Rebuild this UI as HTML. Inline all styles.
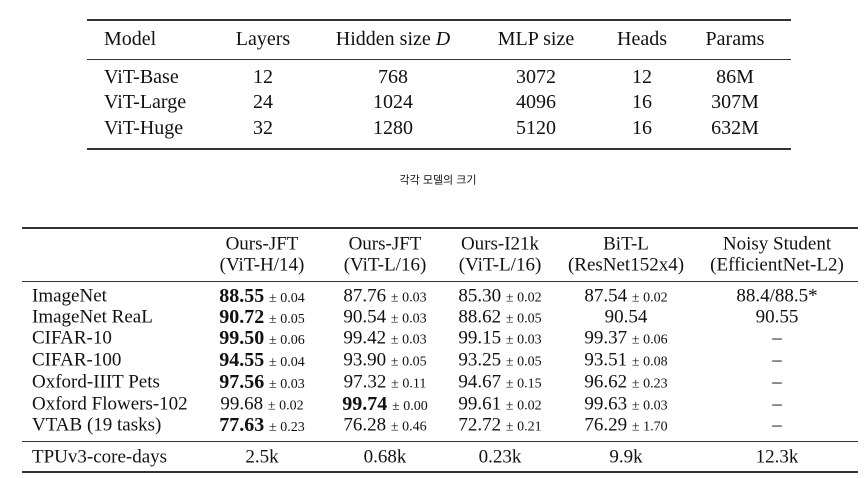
<!DOCTYPE html>
<html><head><meta charset="utf-8">
<style>
body{margin:0;width:865px;height:478px;background:#fff;position:relative;overflow:hidden;font-family:"Liberation Serif",serif;color:#111}
.t{position:absolute;white-space:nowrap;transform:translate(-50%,-50%);line-height:1}
.l{transform:translate(0,-50%)}
.rule{position:absolute;background:#333}
.pm{font-size:14px}
.big{font-size:20px}
.mid{font-size:19px}
b{font-size:20px}
</style></head><body>
<div class="rule" style="left:87px;top:19px;width:704px;height:2px"></div>
<div class="rule" style="left:87px;top:59px;width:704px;height:1px"></div>
<div class="rule" style="left:87px;top:148px;width:704px;height:2px"></div>
<div class="t" style="left:438px;top:181px;font-size:11px;font-family:'Liberation Sans','Noto Sans CJK KR',sans-serif">각각 모델의 크기</div>
<div class="rule" style="left:22px;top:227px;width:836px;height:2px"></div>
<div class="rule" style="left:22px;top:281px;width:836px;height:1px"></div>
<div class="rule" style="left:22px;top:441px;width:836px;height:1px"></div>
<div class="rule" style="left:22px;top:471px;width:836px;height:2px"></div>
<script>
const topCols=[263,393,536,642,735];
const topHead=["Layers","Hidden size <i>D</i>","MLP size","Heads","Params"];
const topRows=[["ViT-Base","12","768","3072","12","86M"],["ViT-Large","24","1024","4096","16","307M"],["ViT-Huge","32","1280","5120","16","632M"]];
const topY=[77,102,128];
function add(html,x,y,cls,name){const d=document.createElement('div');d.className='t '+cls;d.style.left=x+'px';d.style.top=y+'px';d.innerHTML=html;


document.body.appendChild(d);}
add("Model",104,39,'big l','top-header-model');
topHead.forEach((h,i)=>add(h,topCols[i],39,'big','top-header-'+i));
topRows.forEach((r,j)=>{add(r[0],104,topY[j],'big l','top-row-label-'+j);r.slice(1).forEach((v,i)=>add(v,topCols[i],topY[j],'big','top-cell-'+j+'-'+i));});
const bCols=[262,385,500,626,777];
const bHead1=["Ours-JFT","Ours-JFT","Ours-I21k","BiT-L","Noisy Student"];
const bHead2=["(ViT-H/14)","(ViT-L/16)","(ViT-L/16)","(ResNet152x4)","(EfficientNet-L2)"];
const bLabels=["ImageNet","ImageNet ReaL","CIFAR-10","CIFAR-100","Oxford-IIIT Pets","Oxford Flowers-102","VTAB (19 tasks)"];
const bY=[296,317,338,360,382,404,425];
const bData=[
[["88.55","0.04",1],["87.76","0.03"],["85.30","0.02"],["87.54","0.02"],["88.4/88.5*"]],
[["90.72","0.05",1],["90.54","0.03"],["88.62","0.05"],["90.54"],["90.55"]],
[["99.50","0.06",1],["99.42","0.03"],["99.15","0.03"],["99.37","0.06"],["–"]],
[["94.55","0.04",1],["93.90","0.05"],["93.25","0.05"],["93.51","0.08"],["–"]],
[["97.56","0.03",1],["97.32","0.11"],["94.67","0.15"],["96.62","0.23"],["–"]],
[["99.68","0.02"],["99.74","0.00",1],["99.61","0.02"],["99.63","0.03"],["–"]],
[["77.63","0.23",1],["76.28","0.46"],["72.72","0.21"],["76.29","1.70"],["–"]]];
const tpu=["2.5k","0.68k","0.23k","9.9k","12.3k"];
bHead1.forEach((h,i)=>{add(h,bCols[i],244,'mid','header-'+i+'-line1');add(bHead2[i],bCols[i],265,'mid','header-'+i+'-line2');});
bLabels.forEach((l,j)=>{add(l,32,bY[j],'mid l','row-label-'+j);
bData[j].forEach((c,i)=>{let h=c[2]?'<b>'+c[0]+'</b>':c[0];if(c[1])h+=' <span class="pm">± '+c[1]+'</span>';add(h,bCols[i],bY[j],'mid','cell-'+j+'-'+i);});});
add("TPUv3-core-days",32,457,'mid l','row-label-tpu');
tpu.forEach((v,i)=>add(v,bCols[i],457,'mid','tpu-cell-'+i));
</script>
</body></html>
